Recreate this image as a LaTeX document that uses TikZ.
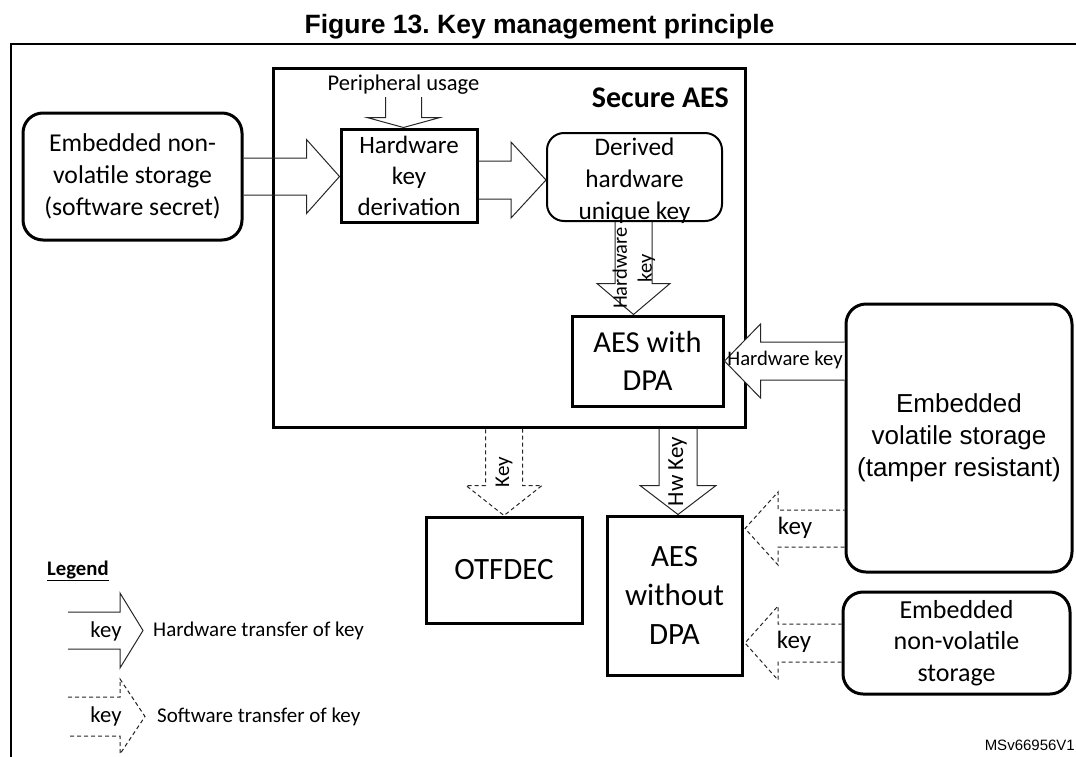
\documentclass[tikz,border=0pt]{standalone}
\usepackage{fontspec}
\setmainfont{Carlito}
\newfontfamily\arialfont{Liberation Sans}
\usetikzlibrary{calc}

\tikzset{
  thickbox/.style={draw=black, line width=3pt, inner sep=0pt, align=center},
  roundbox/.style={thickbox, rounded corners=20pt},
  hwarrow/.style={draw=black!85, line width=1pt},
  swarrow/.style={draw=black!85, line width=1pt, dash pattern=on 4pt off 3pt},
  lbl/.style={inner sep=0pt, align=center},
}

% #1 options, #2 start, #3 tip, #4 shaft half width, #5 head half width, #6 head length
\newcommand{\blockarrow}[6][]{%
  \coordinate (ba-s) at (#2);
  \coordinate (ba-t) at (#3);
  \coordinate (ba-h) at ($(ba-t)!#6pt!(ba-s)$);
  \draw[#1] ($(ba-s)!#4pt!90:(ba-t)$) -- ($(ba-h)!#4pt!-90:(ba-s)$)
    -- ($(ba-h)!#5pt!-90:(ba-s)$) -- (ba-t) -- ($(ba-h)!#5pt!90:(ba-s)$)
    -- ($(ba-h)!#4pt!90:(ba-s)$) -- ($(ba-s)!#4pt!-90:(ba-t)$);
}

\begin{document}
\begin{tikzpicture}[x=1pt,y=-1pt]
\useasboundingbox (0,0) rectangle (1076,756);

% title and frame
\node[lbl, font=\arialfont\bfseries\fontsize{26.5}{30}\selectfont, anchor=base] (title) at (539.5,33) {Figure 13.\ Key management principle};
\coordinate (frTL) at (11,44);
\coordinate (frTR) at (1077,44);
\coordinate (frBL) at (11,757);
\draw[line width=2.2pt] (frBL) -- (frTL) -- (frTR);

% Secure AES container
\node[thickbox, minimum width=472pt, minimum height=359pt] (sa) at (509,247.5) {};
\node[lbl, font=\bfseries\fontsize{30}{36}\selectfont, anchor=base east] (satitle) at (729,107) {Secure AES};

% left storage
\node[roundbox, minimum width=219pt, minimum height=127pt, font=\fontsize{25.7}{32}\selectfont] (ens) at (132.5,176.5) {Embedded non-\\volatile storage\\(software secret)};

% hardware key derivation
\node[thickbox, minimum width=136pt, minimum height=93pt, font=\fontsize{25}{31}\selectfont] (hkd) at (409,175.5) {Hardware\\key\\derivation};

% derived key
\node[thickbox, line width=2pt, rounded corners=17pt, minimum width=175pt, minimum height=88pt] (der) at (634.5,177) {};
\node[lbl, font=\fontsize{25.3}{32}\selectfont] (dert) at (634.5,181) {Derived\\hardware\\unique key};

% arrows inside
\blockarrow[hwarrow]{ens.east}{hkd.west |- ens.east}{18.5}{37}{33}
\node[lbl, font=\fontsize{22.5}{27}\selectfont, anchor=base] (pu) at (403.5,90) {Peripheral usage};
\coordinate (pus) at ($(pu.base)+(0,7)$);
\blockarrow[hwarrow]{pus}{hkd.north -| pus}{18}{36.5}{10}
\coordinate (hd) at ($(hkd.east)+(0,4.5)$);
\blockarrow[hwarrow]{hd}{der.west |- hd}{19}{38}{35}

% AES with DPA
\node[thickbox, minimum width=151pt, minimum height=90pt, font=\fontsize{30.5}{37.5}\selectfont] (dpa) at (647.5,361) {AES with\\DPA};
\coordinate (dd) at ($(der.south)+(-1,0)$);
\blockarrow[hwarrow]{dd}{dpa.north -| dd}{18.5}{36.5}{31}
\node[lbl, rotate=90, font=\fontsize{20.5}{25}\selectfont] (hk1) at (634,268) {Hardware\\key};

% volatile storage
\node[roundbox, minimum width=226pt, minimum height=268pt, font=\arialfont\fontsize{26}{32}\selectfont] (vol) at (959,438) {Embedded\\volatile storage\\(tamper resistant)};
\blockarrow[hwarrow, fill=white]{vol.west |- dpa.east}{dpa.east}{19}{37}{36}
\node[lbl, font=\fontsize{20.7}{25}\selectfont] (hk2) at (785,360) {Hardware key};

% lower boxes
\node[thickbox, minimum width=135pt, minimum height=159pt, font=\fontsize{31}{39}\selectfont] (awo) at (674.5,595.5) {AES\\without\\DPA};
\node[thickbox, minimum width=156pt, minimum height=106pt, font=\fontsize{31}{37}\selectfont] (otf) at (504,570) {OTFDEC};
\node[roundbox, minimum width=227pt, minimum height=102pt, font=\fontsize{26}{31.5}\selectfont] (nv) at (956.5,643) {Embedded\\non-volatile\\storage};

% Hw Key arrow
\coordinate (hw) at ($(awo.north)+(3.5,0)$);
\blockarrow[hwarrow]{sa.south -| hw}{hw}{19}{38}{29}
\node[lbl, rotate=90, font=\fontsize{23}{28}\selectfont] (hwk) at (677.5,471.5) {Hw Key};

% Key arrow to OTFDEC
\blockarrow[swarrow]{sa.south -| otf.north}{otf.north}{18.5}{38}{30}
\node[lbl, rotate=90, font=\fontsize{21}{25}\selectfont] (k1) at (504,472) {Key};

% dashed key arrows from storages
\coordinate (vkt) at ($(awo.east)+(1.5,-67)$);
\blockarrow[swarrow]{vol.west |- vkt}{vkt}{18.5}{36.5}{33}
\node[lbl, font=\fontsize{25}{30}\selectfont] (k2) at (795,528) {key};
\coordinate (nk0) at (awo.east |- nv.west);
\coordinate (nkt) at ($(nk0)+(1.5,0)$);
\blockarrow[swarrow]{nv.west}{nkt}{19}{37}{33}
\node[lbl, font=\fontsize{25}{30}\selectfont] (k3) at (794,642) {key};

% legend
\node[lbl, font=\bfseries\fontsize{20.7}{25}\selectfont, anchor=base west] (leg) at (47,575) {\underline{Legend}};
\coordinate (l1s) at (68,630.5);
\coordinate (l1t) at (143,630.5);
\blockarrow[hwarrow]{l1s}{l1t}{18.5}{37.5}{23}
\node[lbl, font=\fontsize{22.7}{27}\selectfont] (l1k) at (106,631) {key};
\node[lbl, font=\fontsize{21}{25}\selectfont, anchor=west] (l1d) at (153,631) {Hardware transfer of key};
\coordinate (l2s) at (68,716.5);
\coordinate (l2t) at (145,716.5);
\blockarrow[swarrow]{l2s}{l2t}{19.5}{37.5}{25}
\node[lbl, font=\fontsize{22.7}{27}\selectfont] (l2k) at (106,716.5) {key};
\node[lbl, font=\fontsize{21}{25}\selectfont, anchor=west] (l2d) at (157,716.5) {Software transfer of key};

% reference code
\node[lbl, font=\arialfont\fontsize{15}{18}\selectfont, anchor=base east] (ms) at (1075,750) {MSv66956V1};
\end{tikzpicture}
\end{document}
